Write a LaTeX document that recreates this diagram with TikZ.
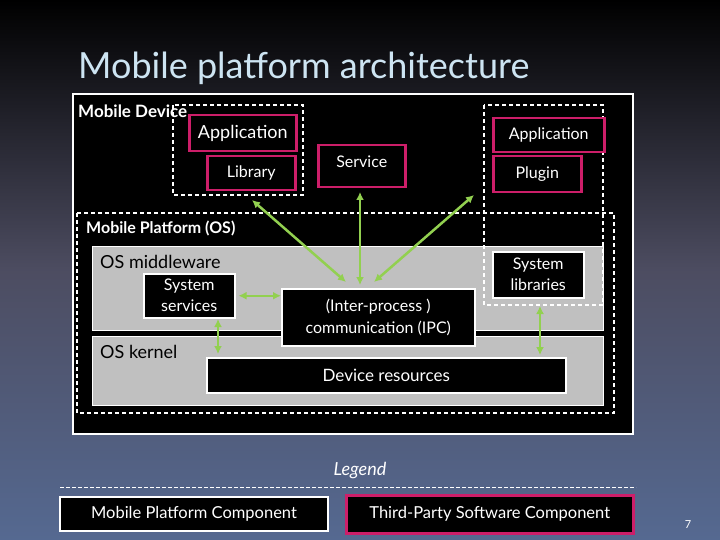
\documentclass[tikz,border=0pt]{standalone}
\usepackage{fontspec}
\setmainfont{Lato}
\usetikzlibrary{arrows.meta}
\definecolor{pinkc}{RGB}{205,30,105}
\definecolor{grn}{RGB}{146,208,80}
\definecolor{grayc}{RGB}{192,192,192}
\definecolor{titlec}{RGB}{205,228,242}
\begin{document}
\begin{tikzpicture}[x=1pt,y=-1pt,
 pbox/.style={draw=pinkc,line width=2.5pt,fill=black,text=white,font=\fontsize{18}{20}\selectfont},
 wbox/.style={draw=white,line width=1.5pt,fill=black,text=white,font=\fontsize{18}{20}\selectfont,align=center},
 dbox/.style={draw=white,line width=1.2pt,dash pattern=on 4pt off 3pt},
 gbox/.style={fill=grayc,draw=white,line width=1pt},
 arr/.style={grn,line width=2.5pt,{Latex[length=8pt,width=8pt]}-{Latex[length=8pt,width=8pt]}},
 lbl/.style={anchor=west,inner sep=0pt,font=\fontsize{18}{20}\selectfont}]
\shade[top color=black,bottom color={rgb,255:red,85;green,105;blue,145},middle color=black!80!blue!40!gray] (0,0) rectangle (720,540);
\useasboundingbox (0,0) rectangle (720,540);
\node[lbl,text=titlec,font=\fontsize{36}{40}\selectfont] (title) at (78,68) {Mobile platform architecture};
\draw[fill=black,draw=white,line width=2pt] (73,94) rectangle (633,434);
\node[lbl,text=white,font=\bfseries\fontsize{17}{19}\selectfont] (md) at (78,111) {Mobile Device};
\draw[dbox] (77,213) rectangle (614,413);
\node[lbl,text=white,font=\bfseries\fontsize{16}{18}\selectfont] (mp) at (86,228) {Mobile Platform (OS)};
\draw[gbox] (92,246) rectangle (603,330);
\draw[gbox] (92,336) rectangle (603,405);
\node[lbl] (mw) at (100,262) {OS middleware};
\node[lbl] (kn) at (100,352) {OS kernel};
\draw[dbox] (173,105) rectangle (303,195);
\draw[dbox] (484,105) rectangle (603,305);
\node[pbox,minimum width=107pt,minimum height=36pt,anchor=north west,inner sep=0pt] (app1) at (188,114) {Application};
\node[pbox,minimum width=88pt,minimum height=34pt,anchor=north west,inner sep=0pt,font=\fontsize{16}{18}\selectfont] (lib) at (206,155) {Library};
\node[pbox,minimum width=87pt,minimum height=42pt,anchor=north west,inner sep=0pt,text depth=10pt,font=\fontsize{16}{18}\selectfont] (svc) at (317,144) {Service};
\node[pbox,minimum width=111pt,minimum height=34pt,anchor=north west,inner sep=0pt,font=\fontsize{16}{18}\selectfont] (app2) at (492,117) {Application};
\node[pbox,minimum width=88pt,minimum height=36pt,anchor=north west,inner sep=0pt,font=\fontsize{16}{18}\selectfont] (plg) at (492,155) {Plugin};
\node[wbox,minimum width=91pt,minimum height=44pt,anchor=north west,inner sep=0pt,font=\fontsize{16}{21}\selectfont] (ss) at (143,273) {System\\services};
\node[wbox,minimum width=193pt,minimum height=57pt,anchor=north west,inner sep=0pt,font=\fontsize{16}{22}\selectfont] (ipc) at (281,288) {(Inter-process )\\communication (IPC)};
\node[wbox,minimum width=91pt,minimum height=46pt,anchor=north west,inner sep=0pt,font=\fontsize{16}{21}\selectfont] (sl) at (492,251) {System\\libraries};
\node[wbox,minimum width=359pt,minimum height=35pt,anchor=north west,inner sep=0pt,font=\fontsize{17}{19}\selectfont] (dr) at (206,357) {Device resources};
\coordinate (a1) at (252,200); \coordinate (b1) at (346,282);
\coordinate (a2) at (360,192); \coordinate (b2) at (360,285);
\coordinate (a3) at (474,195); \coordinate (b3) at (374,282);
\draw[arr] (a1) -- (b1);
\draw[arr] (a2) -- (b2);
\draw[arr] (a3) -- (b3);
\draw[arr,line width=2pt] (ss.east) ++(3,0) coordinate (c1) -- (ipc.west |- c1);
\coordinate (d1) at (218,319); \coordinate (d2) at (218,354);
\draw[arr,line width=2pt] (d1) -- (d2);
\coordinate (e1) at (540,306); \coordinate (e2) at (540,355);
\draw[arr,line width=1.5pt] (e1) -- (e2);
\node[text=white,font=\itshape\fontsize{18}{20}\selectfont] (lg) at (360,471) {Legend};
\coordinate (l1) at (60,487); \coordinate (l2) at (636,487);
\draw[white,line width=0.8pt,dash pattern=on 4pt off 2pt] (l1) -- (l2);
\node[wbox,minimum width=268pt,minimum height=34pt,anchor=north west,inner sep=0pt,line width=2pt,font=\fontsize{16.5}{18}\selectfont] (mpc) at (59,496) {Mobile Platform Component};
\node[pbox,minimum width=287pt,minimum height=38pt,anchor=north west,inner sep=0pt,line width=2.5pt,font=\fontsize{16.5}{18}\selectfont] (tps) at (345,494) {Third-Party Software Component};
\node[text=white,font=\fontsize{11}{12}\selectfont] (pg) at (688,525) {7};
\end{tikzpicture}
\end{document}
